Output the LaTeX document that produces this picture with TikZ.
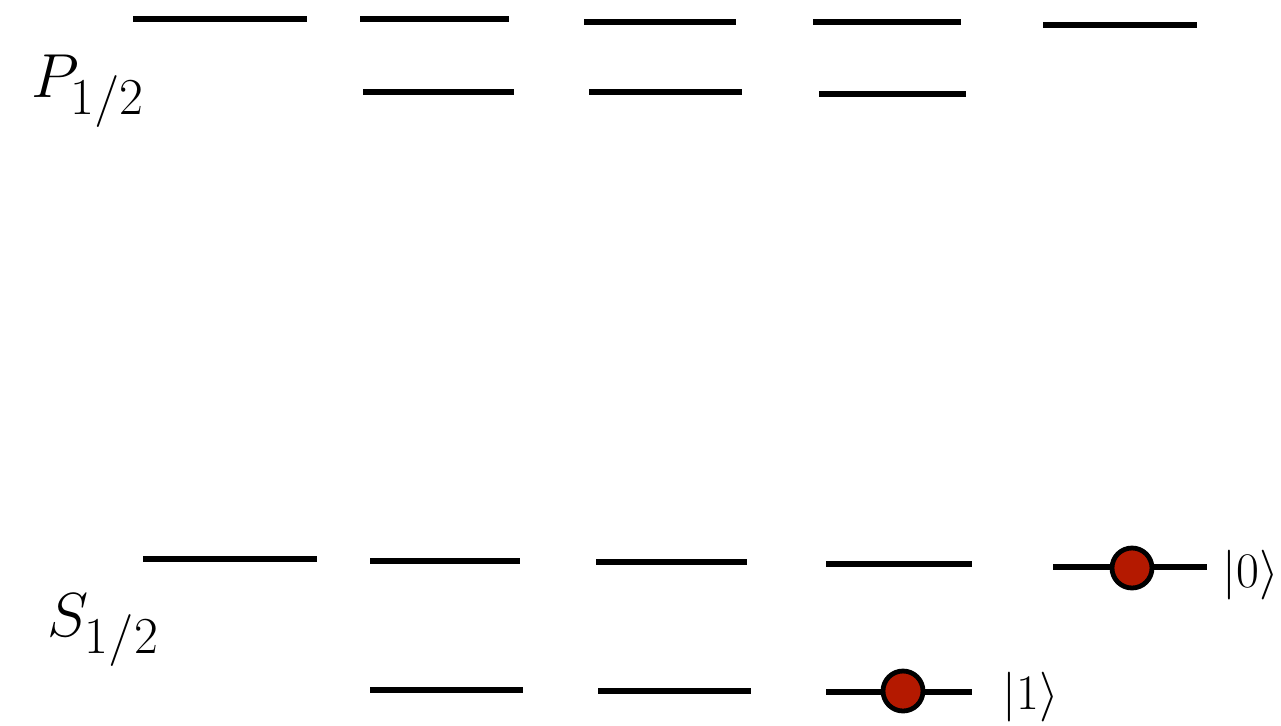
\documentclass[tikz,border=0pt]{standalone}
\usepackage{amsmath}
\usepackage{tikz}

\definecolor{ionred}{RGB}{180,25,0}

\begin{document}
\begin{tikzpicture}[x=0.5pt,y=-0.5pt,
  level/.style={line width=2.9pt},
  ion/.style={circle,draw=black,line width=2.4pt,fill=ionred,minimum size=20pt,inner sep=0pt}]
  \useasboundingbox (0,0) rectangle (1281,725);
  % P_{1/2} manifold
  \foreach \xa/\xb/\y in {133/307/19, 360/509/19, 584/736/22, 813/961/22, 1043/1197/25,
                          363/514/92, 589/742/92, 819/966/94}
    \draw[level] (\xa,\y) -- (\xb,\y);
  % S_{1/2} manifold
  \foreach \xa/\xb/\y in {143/317/559, 370/520/561, 596/747/562, 826/972/564, 1053/1207/567,
                          370/523/690, 598/751/691, 826/972/692}
    \draw[level] (\xa,\y) -- (\xb,\y);
  \node[anchor=base west,inner sep=0pt,font=\Huge,scale=1.25] (P) at (31,97) {$P_{1/2}$};
  \node[anchor=base west,inner sep=0pt,font=\Huge,scale=1.25] (S) at (47,636) {$S_{1/2}$};
  % qubit states
  \node[ion] (q0) at (1132,568) {};
  \node[ion] (q1) at (903,691) {};
  \node[anchor=west,inner sep=0pt,font=\Huge] (k0) at (1222,575) {$|0\rangle$};
  \node[anchor=west,inner sep=0pt,font=\Huge] (k1) at (1002,697) {$|1\rangle$};
\end{tikzpicture}
\end{document}
